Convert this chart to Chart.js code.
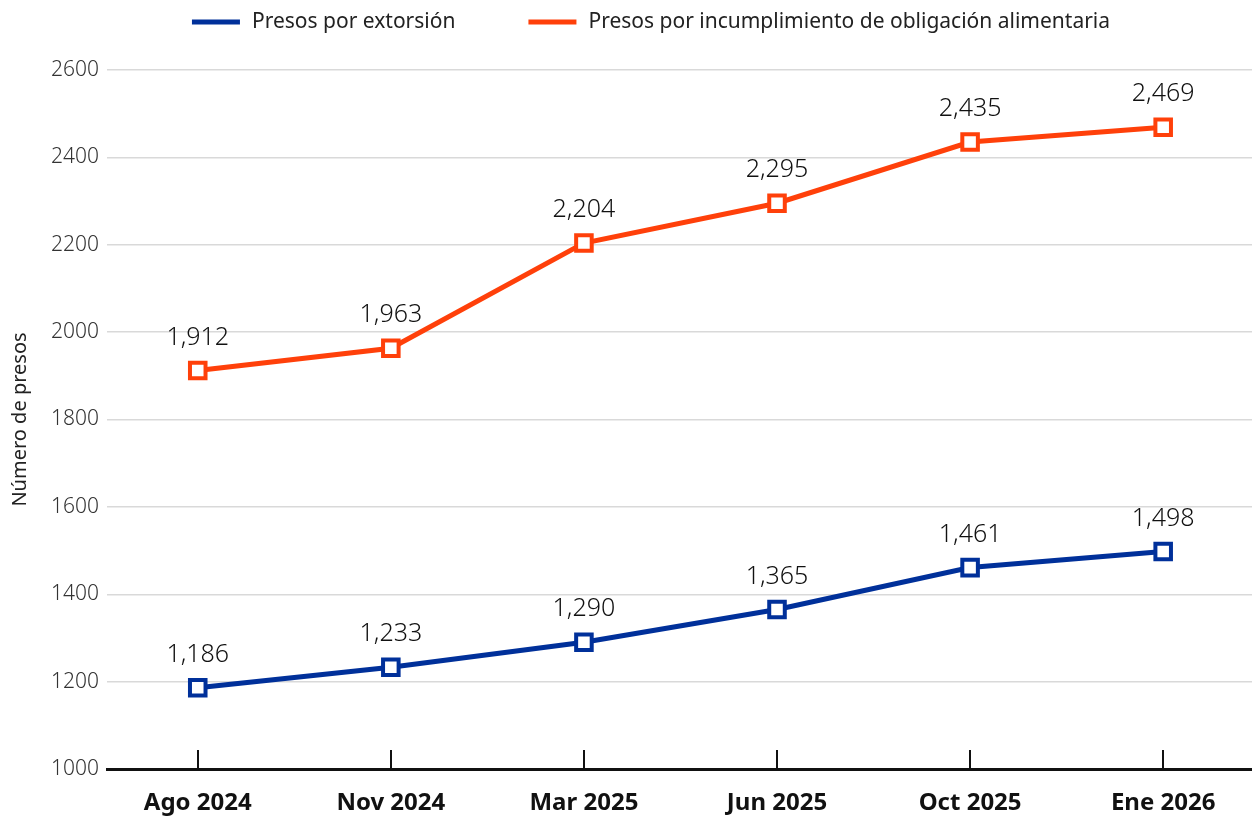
<!DOCTYPE html>
<html>
<head>
<meta charset="utf-8">
<script src="https://cdn.jsdelivr.net/npm/chart.js@4.4.1/dist/chart.umd.min.js"></script>
<style>
  html, body { margin: 0; padding: 0; background: #fff; overflow: hidden; }
  #wrap { width: 1252px; height: 816px; }
  canvas { display: block; }
</style>
</head>
<body>
<div id="wrap"><canvas id="myChart" width="1252" height="816"></canvas></div>
<script>
var labels = ['Ago 2024', 'Nov 2024', 'Mar 2025', 'Jun 2025', 'Oct 2025', 'Ene 2026'];
var extorsion = [1186, 1233, 1290, 1365, 1461, 1498];
var alimentaria = [1912, 1963, 2204, 2295, 2435, 2469];
var yTicks = [1000, 1200, 1400, 1600, 1800, 2000, 2200, 2400, 2600];

var FONT = "'Noto Sans', sans-serif";
var BLUE = '#00309a';
var ORANGE = '#ff400a';

function toPoints(arr) {
    return arr.map((v, i) => ({ x: i, y: v }));
}

function fmt(n) {
    return String(n).replace(/\B(?=(\d{3})+(?!\d))/g, ',');
}

//value labels above each point
var valueLabels = {
    id: 'valueLabels',
    afterDatasetsDraw(chart) {
        var ctx = chart.ctx;
        ctx.save();
        ctx.font = "300 25px " + FONT;
        ctx.fillStyle = '#111';
        ctx.textAlign = 'center';
        ctx.textBaseline = 'middle';
        chart.data.datasets.forEach((ds, di) => {
            chart.getDatasetMeta(di).data.forEach((pt, i) => {
                ctx.fillText(fmt(ds.data[i].y), pt.x, pt.y - 33);
            });
        });
        ctx.restore();
    }
};

//small upward tick marks on the x axis
var xTickMarks = {
    id: 'xTickMarks',
    afterDraw(chart) {
        var ctx = chart.ctx;
        var xs = chart.scales.x;
        var bottom = chart.chartArea.bottom;
        ctx.save();
        ctx.strokeStyle = '#111';
        ctx.lineWidth = 2;
        labels.forEach((l, i) => {
            var x = Math.round(xs.getPixelForValue(i));
            ctx.beginPath();
            ctx.moveTo(x, bottom);
            ctx.lineTo(x, bottom - 19);
            ctx.stroke();
        });
        ctx.restore();
    }
};

//legend drawn by hand so the spacing can match
var lineLegend = {
    id: 'lineLegend',
    afterDraw(chart) {
        var ctx = chart.ctx;
        var lineW = 48, gapText = 12, gapItem = 73, cy = 22;
        ctx.save();
        ctx.font = "21px " + FONT;
        ctx.textBaseline = 'middle';
        ctx.textAlign = 'left';
        var items = chart.data.datasets.map((ds) => ({ text: ds.label, color: ds.borderColor, w: ctx.measureText(ds.label).width }));
        var total = 0;
        items.forEach((it, i) => { total += lineW + gapText + it.w + (i > 0 ? gapItem : 0); });
        var x = 651 - total / 2;
        items.forEach((it) => {
            ctx.fillStyle = it.color;
            ctx.fillRect(x, cy - 2.5, lineW, 5);
            ctx.fillStyle = '#222';
            ctx.fillText(it.text, x + lineW + gapText, cy);
            x += lineW + gapText + it.w + gapItem;
        });
        ctx.restore();
    }
};

var ctx = document.getElementById('myChart').getContext('2d');
var myChart = new Chart(ctx, {
    type: 'line',
    data: {
        datasets: [{
            label: 'Presos por extorsión',
            data: toPoints(extorsion),
            borderColor: BLUE,
            backgroundColor: BLUE,
            borderWidth: 5,
            pointStyle: 'rect',
            pointRadius: 11,
            pointHoverRadius: 11,
            pointBorderWidth: 4,
            pointBackgroundColor: '#fff',
            pointBorderColor: BLUE,
            tension: 0
        }, {
            label: 'Presos por incumplimiento de obligación alimentaria',
            data: toPoints(alimentaria),
            borderColor: ORANGE,
            backgroundColor: ORANGE,
            borderWidth: 5,
            pointStyle: 'rect',
            pointRadius: 11,
            pointHoverRadius: 11,
            pointBorderWidth: 4,
            pointBackgroundColor: '#fff',
            pointBorderColor: ORANGE,
            tension: 0
        }]
    },
    options: {
        responsive: false,
        animation: false,
        layout: { autoPadding: false, padding: { top: 70, right: 0, left: 8, bottom: 0 } },
        plugins: {
            legend: { display: false },
            tooltip: { enabled: false }
        },
        scales: {
            x: {
                type: 'linear',
                min: -0.47,
                max: 5.46,
                afterBuildTicks: (s) => { s.ticks = labels.map((l, i) => ({ value: i })); },
                afterFit: (s) => { s.height = 47; s.paddingLeft = 0; s.paddingRight = 0; },
                ticks: {
                    callback: (v) => labels[v],
                    font: { family: FONT, size: 24, weight: 'bold' },
                    color: '#111',
                    padding: 12,
                    maxRotation: 0,
                    autoSkip: false
                },
                grid: { display: false },
                border: { display: true, color: '#111', width: 3 }
            },
            y: {
                min: 1000,
                max: 2600,
                afterBuildTicks: (s) => { s.ticks = yTicks.map((v) => ({ value: v })); },
                afterFit: (s) => { s.width = 99; },
                ticks: {
                    callback: (v) => String(v),
                    font: { family: FONT, size: 21, weight: '300' },
                    color: '#333',
                    padding: 8
                },
                title: {
                    display: true,
                    text: 'Número de presos',
                    font: { family: FONT, size: 20 },
                    color: '#222',
                    padding: 0
                },
                grid: { color: '#d9d9d9', lineWidth: 1.5, drawTicks: false },
                border: { display: false }
            }
        }
    },
    plugins: [valueLabels, xTickMarks, lineLegend]
});
</script>
</body>
</html>
